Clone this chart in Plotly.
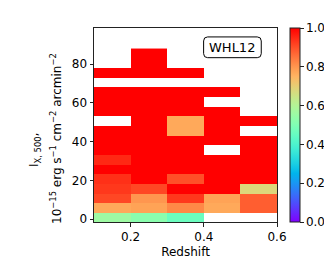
import numpy as np
import plotly.graph_objects as go

# ---- data ----
redshift_edges = [0.1, 0.2, 0.3, 0.4, 0.5, 0.6]
lx_edges = [-2, 3, 8, 13, 18, 23, 28, 33, 38, 43, 48, 53, 58, 63, 68, 73, 78, 83, 88]
nan = None
fraction = [
    [0.56, 0.52, 0.46, nan, nan],   # -2..3
    [0.77, 0.78, 0.82, 0.77, 0.88], # 3..8
    [0.91, 0.80, 0.93, 0.78, 0.88], # 8..13
    [0.93, 0.91, 1.0, 1.0, 0.68],   # 13..18
    [0.94, 1.0, 0.90, 1.0, 1.0],    # 18..23
    [1.0, 1.0, 1.0, 1.0, 1.0],      # 23..28
    [0.95, 1.0, 1.0, 1.0, 1.0],     # 28..33
    [1.0, 1.0, 1.0, nan, 1.0],      # 33..38
    [1.0, 1.0, 1.0, 1.0, 1.0],      # 38..43
    [1.0, 1.0, 0.77, 1.0, nan],     # 43..48
    [nan, 1.0, 0.77, 1.0, 1.0],     # 48..53
    [1.0, 1.0, 1.0, 1.0, nan],      # 53..58
    [1.0, 1.0, 1.0, nan, nan],      # 58..63
    [1.0, 1.0, 1.0, 1.0, nan],      # 63..68
    [nan, nan, nan, nan, nan],      # 68..73
    [1.0, 1.0, 1.0, nan, nan],      # 73..78
    [nan, 1.0, nan, nan, nan],      # 78..83
    [nan, 1.0, nan, nan, nan],      # 83..88
]
cbar_ticks = [0.0, 0.2, 0.4, 0.6, 0.8, 1.0]
y_ticks = [0, 20, 40, 60, 80]
x_ticks = [0.2, 0.4, 0.6]
ytitle_line1 = "I<sub>X, 500</sub>,"
ytitle_line2 = "10<sup>−15</sup> erg s<sup>−1</sup> cm<sup>−2</sup> arcmin<sup>−2</sup>"

# matplotlib 'rainbow' colormap
def rainbow(t):
    r = min(1.0, abs(2 * t - 0.5))
    g = np.sin(np.pi * t)
    b = np.cos(np.pi * t / 2)
    return f"rgb({int(round(r*255))},{int(round(max(g,0)*255))},{int(round(max(b,0)*255))})"

cs = [[t, rainbow(t)] for t in np.linspace(0, 1, 41)]

z = [[np.nan if v is None else v for v in row] for row in fraction]

fig = go.Figure()
fig.add_trace(go.Heatmap(
    x=redshift_edges, y=lx_edges, z=z,
    zmin=0, zmax=1, colorscale=cs,
    colorbar=dict(
        x=1.071, xanchor="left", y=0.5, yanchor="middle",
        len=1.0, lenmode="fraction", thickness=10, thicknessmode="pixels",
        outlinewidth=1, outlinecolor="#222",
        tickvals=cbar_ticks, ticktext=[f"{v:.1f}" for v in cbar_ticks],
        ticks="outside", ticklen=3.5, tickcolor="#222",
        tickfont=dict(family="DejaVu Sans", size=12, color="black"),
        xpad=0, ypad=0,
    ),
    hoverongaps=False,
))

W, H = 332, 266
L, R, T, B = 86, 63, 20, 52
fig.update_layout(
    width=W, height=H,
    margin=dict(l=L, r=R, t=T, b=B),
    paper_bgcolor="white", plot_bgcolor="white",
    font=dict(family="DejaVu Sans", size=12, color="black"),
    xaxis=dict(
        range=[0.1, 0.6], tickvals=x_ticks, ticktext=["0.2", "0.4", "0.6"],
        ticks="outside", ticklen=3.5, tickcolor="#222",
        showline=True, linecolor="#222", linewidth=1, mirror=True,
        showgrid=False, zeroline=False,
        title=dict(text="Redshift", font=dict(size=12), standoff=4),
    ),
    yaxis=dict(
        range=[-1.5, 98.6], tickvals=y_ticks,
        ticks="outside", ticklen=3.5, tickcolor="#222",
        showline=True, linecolor="#222", linewidth=1, mirror=True,
        showgrid=False, zeroline=False,
    ),
)

# y-axis title as two rotated lines
pw, ph = W - L - R, H - T - B
fig.add_annotation(text=ytitle_line1, xref="paper", yref="paper",
                   x=(27 - L) / pw, y=(H - B - 142) / ph, textangle=-90,
                   showarrow=False, xanchor="center", yanchor="middle",
                   font=dict(size=12, color="black"))
fig.add_annotation(text=ytitle_line2, xref="paper", yref="paper",
                   x=(48 - L) / pw, y=(H - B - 131) / ph, textangle=-90,
                   showarrow=False, xanchor="center", yanchor="middle",
                   font=dict(size=12, color="black"))

# rounded label box
x0, x1 = 0.599, 0.914
y0, y1 = 0.847, 0.954
rx, ry = 4 / pw, 4 / ph
path = (f"M {x0+rx},{y0} L {x1-rx},{y0} Q {x1},{y0} {x1},{y0+ry} "
        f"L {x1},{y1-ry} Q {x1},{y1} {x1-rx},{y1} L {x0+rx},{y1} "
        f"Q {x0},{y1} {x0},{y1-ry} L {x0},{y0+ry} Q {x0},{y0} {x0+rx},{y0} Z")
fig.add_shape(type="path", path=path, xref="paper", yref="paper",
              line=dict(color="black", width=1), fillcolor="white")
fig.add_annotation(text="WHL12", xref="paper", yref="paper",
                   x=(x0 + x1) / 2, y=(y0 + y1) / 2, showarrow=False,
                   font=dict(size=13, color="black"), xanchor="center", yanchor="middle")

fig.write_html("out.html")
